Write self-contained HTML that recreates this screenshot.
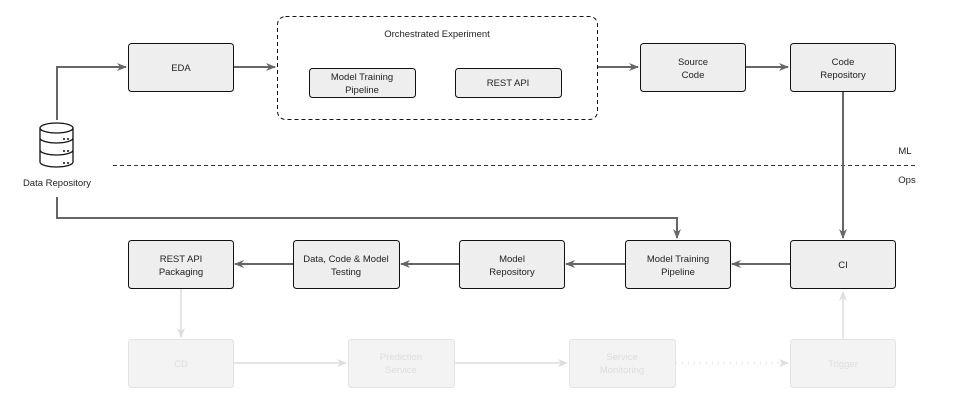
<!DOCTYPE html>
<html><head><meta charset="utf-8"><style>
html,body{margin:0;padding:0;background:#fff;}
svg{display:block;}
text{font-family:"Liberation Sans Narrow","Liberation Sans",sans-serif;font-size:9.5px;fill:#222;text-anchor:middle;}
.f text, text.f{fill:#ddd;}
</style></head><body>
<svg width="960" height="404" viewBox="0 0 960 404" xmlns="http://www.w3.org/2000/svg">
<defs>
<marker id="a" markerWidth="10" markerHeight="8" refX="9" refY="4" orient="auto" markerUnits="userSpaceOnUse"><path d="M0,0 L10,4 L0,8 L3,4 Z" fill="#666"/></marker>
<marker id="b" markerWidth="10" markerHeight="8" refX="9" refY="4" orient="auto" markerUnits="userSpaceOnUse"><path d="M0,0 L10,4 L0,8 L3,4 Z" fill="#ddd"/></marker>
</defs>
<g fill="#eee" stroke="#111" stroke-width="1">
<rect x="128.5" y="43.5" width="105" height="48" rx="3"/>
<rect x="640.5" y="43.5" width="105" height="48" rx="3"/>
<rect x="790.5" y="43.5" width="105" height="48" rx="3"/>
<rect x="309.5" y="68.5" width="106" height="29" rx="3"/>
<rect x="455.5" y="68.5" width="106" height="29" rx="3"/>
<rect x="128.5" y="240.5" width="105" height="48" rx="3"/>
<rect x="293.5" y="240.5" width="106" height="48" rx="3"/>
<rect x="459.5" y="240.5" width="105" height="48" rx="3"/>
<rect x="625.5" y="240.5" width="105" height="48" rx="3"/>
<rect x="790.5" y="240.5" width="105" height="48" rx="3"/>
</g>
<rect x="277.5" y="16.5" width="320" height="103" rx="8" fill="none" stroke="#111" stroke-dasharray="4,3"/>
<g fill="#f3f3f3" stroke="#e3e3e3">
<rect x="128.5" y="339.5" width="105" height="48" rx="3"/>
<rect x="348.5" y="339.5" width="106" height="48" rx="3"/>
<rect x="569.5" y="339.5" width="106" height="48" rx="3"/>
<rect x="790.5" y="339.5" width="105" height="48" rx="3"/>
</g>
<line x1="113" y1="165.5" x2="918" y2="165.5" stroke="#333" stroke-dasharray="4,3"/>
<g fill="none" stroke="#666" stroke-width="2">
<path d="M57,120 V67 H126" marker-end="url(#a)"/>
<path d="M234,67 H275" marker-end="url(#a)"/>
<path d="M598,67 H638" marker-end="url(#a)"/>
<path d="M746,67 H788" marker-end="url(#a)"/>
<path d="M843,92 V238" marker-end="url(#a)"/>
<path d="M57,197 V218 H677 V238" marker-end="url(#a)"/>
<path d="M790,264 H732" marker-end="url(#a)"/>
<path d="M625,264 H566" marker-end="url(#a)"/>
<path d="M459,264 H401" marker-end="url(#a)"/>
<path d="M293,264 H235" marker-end="url(#a)"/>
</g>
<g fill="none" stroke="#ddd" stroke-width="1.5">
<path d="M181,289 V337" marker-end="url(#b)"/>
<path d="M234,363 H346" marker-end="url(#b)"/>
<path d="M455,363 H567" marker-end="url(#b)"/>
<path d="M676,363 H788" stroke-dasharray="1,5" marker-end="url(#b)"/>
<path d="M843,339 V292" marker-end="url(#b)"/>
</g>
<!-- db icon -->
<g fill="#fff" stroke="#111" stroke-width="1.3">
<path d="M40,150 v12 a16.5,5 0 0 0 33,0 v-12"/>
<path d="M40,138 v12 a16.5,5 0 0 0 33,0 v-12"/>
<path d="M40,128 v10 a16.5,5 0 0 0 33,0 v-10"/>
<ellipse cx="56.5" cy="128" rx="16.5" ry="5"/>
</g>
<g fill="#111"><circle cx="64" cy="139" r="1"/><circle cx="68" cy="139" r="1"/><circle cx="64" cy="151" r="1"/><circle cx="68" cy="151" r="1"/><circle cx="64" cy="163" r="1"/><circle cx="68" cy="163" r="1"/></g>
<text x="57" y="186">Data Repository</text>
<text x="181" y="71">EDA</text>
<text x="437" y="37">Orchestrated Experiment</text>
<text x="362" y="80">Model Training</text><text x="362" y="93">Pipeline</text>
<text x="508" y="86">REST API</text>
<text x="693" y="65">Source</text><text x="693" y="78">Code</text>
<text x="843" y="65">Code</text><text x="843" y="78">Repository</text>
<text x="905" y="154">ML</text>
<text x="907" y="183">Ops</text>
<text x="181" y="262">REST API</text><text x="181" y="275">Packaging</text>
<text x="346" y="262">Data, Code &amp; Model</text><text x="346" y="275">Testing</text>
<text x="512" y="262">Model</text><text x="512" y="275">Repository</text>
<text x="678" y="262">Model Training</text><text x="678" y="275">Pipeline</text>
<text x="843" y="268">CI</text>
<text class="f" x="181" y="367">CD</text>
<text class="f" x="401" y="360">Prediction</text><text class="f" x="401" y="373">Service</text>
<text class="f" x="622" y="360">Service</text><text class="f" x="622" y="373">Monitoring</text>
<text class="f" x="843" y="367">Trigger</text>
</svg>
</body></html>
